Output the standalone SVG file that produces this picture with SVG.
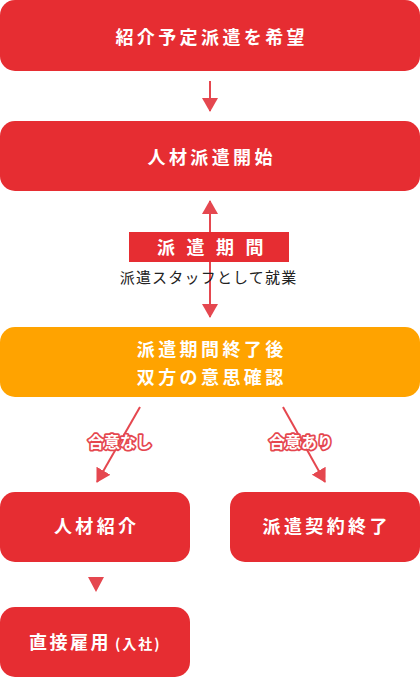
<svg xmlns="http://www.w3.org/2000/svg" width="420" height="677" viewBox="0 0 420 677">
<defs>
<style>
.box{fill:#e62d32}
.obox{fill:#ffa300}
.t{font-family:"Noto Sans CJK JP","Noto Sans",sans-serif;font-weight:700;font-size:18px;fill:#fff;text-anchor:middle;letter-spacing:3.4px}
.ln{stroke:#e5474f;stroke-width:2;fill:none}
.lbl{font-family:"Noto Sans CJK JP","Noto Sans",sans-serif;font-weight:700;font-size:16px;fill:#fff;stroke:#e5474f;stroke-width:3.5px;stroke-linejoin:round;paint-order:stroke;text-anchor:middle}
.sub{font-family:"Noto Sans CJK JP","Noto Sans",sans-serif;font-size:15px;fill:#222;text-anchor:middle;letter-spacing:1.2px}
</style>
<marker id="ah" viewBox="0 0 14 16" refX="13" refY="8" markerWidth="14" markerHeight="16" markerUnits="userSpaceOnUse" orient="auto-start-reverse">
<path d="M0,0 L14,8 L0,16 z" fill="#e5474f"/>
</marker>
</defs>

<g id="connectors">
<line class="ln" x1="210" y1="81" x2="210" y2="111" marker-end="url(#ah)"/>
<line class="ln" x1="210" y1="201" x2="210" y2="317" marker-start="url(#ah)" marker-end="url(#ah)"/>
<line class="ln" x1="140" y1="407" x2="97" y2="482" marker-end="url(#ah)"/>
<line class="ln" x1="283" y1="407" x2="325" y2="482" marker-end="url(#ah)"/>
<polygon points="88,577 104,577 96,592" fill="#e5474f"/>
</g>

<g id="n1">
<rect class="box" x="0" y="0" width="420" height="71" rx="15"/>
<text class="t" x="211.7" y="43.5">紹介予定派遣を希望</text>
</g>

<g id="n2">
<rect class="box" x="0" y="121" width="420" height="70" rx="15"/>
<text class="t" x="211.7" y="163.5">人材派遣開始</text>
</g>

<g id="period">
<rect class="box" x="129" y="232" width="160" height="30"/>
<text class="t" x="216" y="253.5" style="letter-spacing:11.5px">派遣期間</text>
<text class="sub" x="208.6" y="282.5">派遣スタッフとして就業</text>
</g>

<g id="n3">
<rect class="obox" x="0" y="327" width="420" height="70" rx="15"/>
<text class="t" x="211.7" y="355.5">派遣期間終了後</text>
<text class="t" x="211.7" y="383.5">双方の意思確認</text>
</g>

<g id="labels">
<text class="lbl" x="120" y="447.5">合意なし</text>
<text class="lbl" x="301" y="447.5">合意あり</text>
</g>

<g id="n4">
<rect class="box" x="0" y="492" width="190" height="70" rx="15"/>
<text class="t" x="96.7" y="533">人材紹介</text>
</g>

<g id="n5">
<rect class="box" x="230" y="492" width="190" height="70" rx="15"/>
<text class="t" x="326.7" y="533">派遣契約終了</text>
</g>

<g id="n6">
<rect class="box" x="0" y="607" width="190" height="70" rx="15"/>
<text class="t" x="29" y="649" style="text-anchor:start;letter-spacing:2.5px">直接雇用<tspan style="font-size:14px;letter-spacing:2px" dx="4">(入社)</tspan></text>
</g>
</svg>
